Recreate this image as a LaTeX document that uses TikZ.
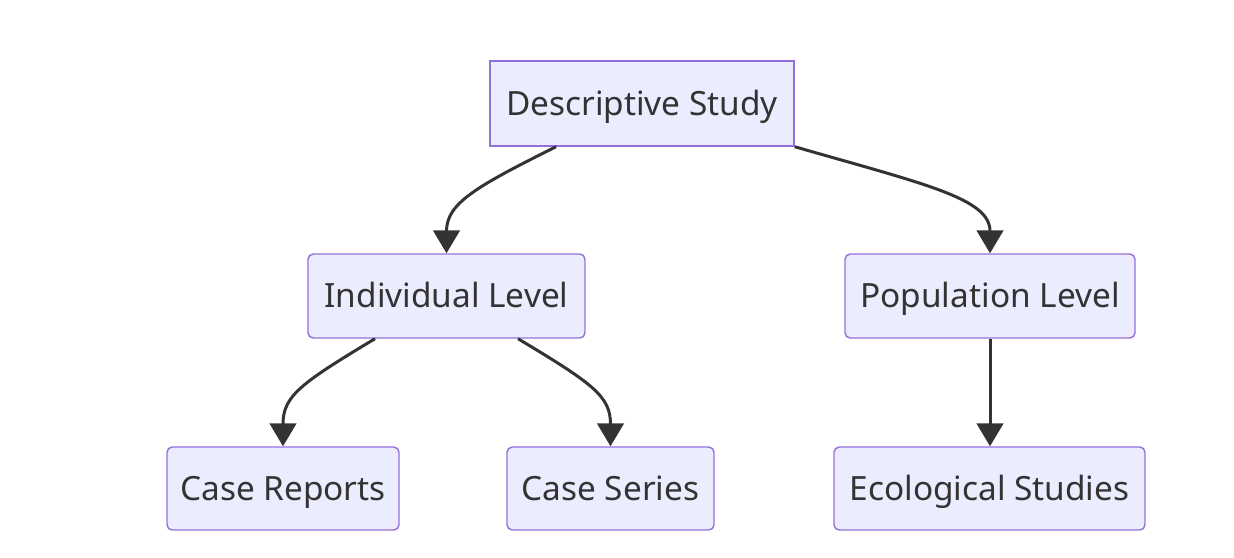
\documentclass[tikz,border=0pt]{standalone}
\usepackage{fontspec}
\setmainfont{Noto Sans}
\usetikzlibrary{arrows.meta}
\definecolor{boxfill}{HTML}{ECECFF}
\definecolor{boxline}{HTML}{9370DB}
\definecolor{ink}{HTML}{333333}

\begin{document}
\begin{tikzpicture}[
  box/.style={draw=boxline,fill=boxfill,line width=0.8pt,text=ink,
    font=\fontsize{19}{21}\selectfont,minimum height=1.68cm,inner sep=0pt,
    text height=13.5pt,text depth=0pt},
  rbox/.style={box,rounded corners=3pt},
  edge/.style={draw=ink,line width=1.7pt,-{Triangle[length=13pt,width=15pt]}}
]
\useasboundingbox (0,0) rectangle (24.68,-11.14);
\node [box,minimum width=6.08cm,minimum height=1.70cm] (desc) at (12.84,-2.07) {Descriptive Study};
\node [rbox,minimum width=5.54cm] (indiv) at (8.93,-5.92) {Individual Level};
\node [rbox,minimum width=5.80cm] (popul) at (19.80,-5.92) {Population Level};
\node [rbox,minimum width=4.64cm,minimum height=1.66cm] (reports) at (5.66,-9.77) {Case Reports};
\node [rbox,minimum width=4.14cm,minimum height=1.66cm] (series) at (12.21,-9.77) {Case Series};
\node [rbox,minimum width=6.22cm,minimum height=1.66cm] (ecolog) at (19.79,-9.77) {Ecological Studies};

\draw [edge] ([xshift=-1.72cm]desc.south) .. controls +(-1.6,-0.8) and +(0,1.0) .. (indiv.north);
\draw [edge] (desc.south east) .. controls +(2.6,-0.75) and +(0,1.1) .. (popul.north);
\draw [edge] ([xshift=-1.43cm]indiv.south) .. controls +(-1.5,-0.9) and +(0,1.0) .. (reports.north);
\draw [edge] ([xshift=1.43cm]indiv.south) .. controls +(1.5,-0.9) and +(0,1.0) .. (series.north);
\draw [edge] (popul.south) -- (popul.south |- ecolog.north);
\end{tikzpicture}
\end{document}
